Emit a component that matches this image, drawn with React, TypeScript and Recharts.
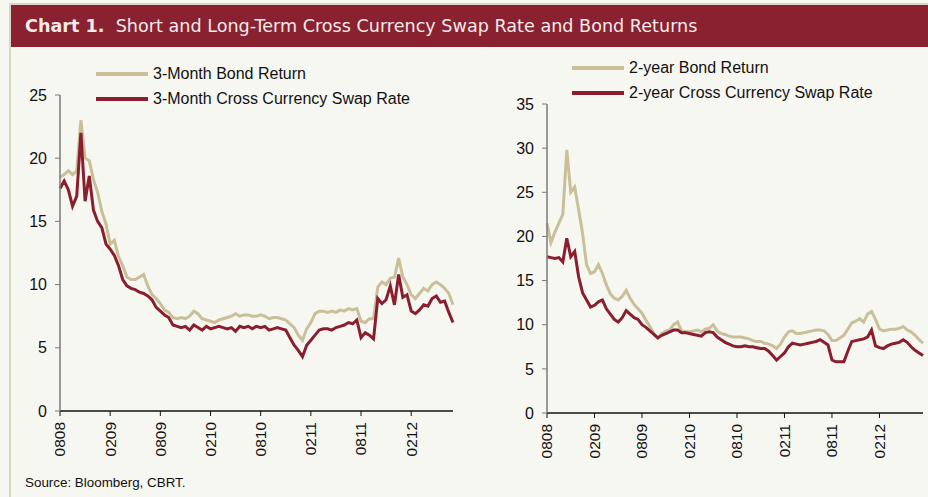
import React from "react";
import { Line, LineChart, XAxis, YAxis } from "recharts";

// half-month steps, Aug 2008 onwards
const tickLabels = ["0808", "0209", "0809", "0210", "0810", "0211", "0811", "0212"];

const leftBond = [
  18.5, 18.7, 19.0, 18.7, 19.0, 23.0, 20.0, 19.8, 18.3, 17.3, 15.8, 14.8, 13.2, 13.5, 12.2, 11.5,
  10.6, 10.4, 10.4, 10.6, 10.8, 9.9, 9.2, 8.9, 8.5, 8.0, 7.8, 7.4, 7.3, 7.4, 7.3, 7.5, 7.9, 7.7,
  7.3, 7.2, 7.1, 7.0, 7.2, 7.3, 7.4, 7.5, 7.7, 7.5, 7.6, 7.6, 7.5, 7.5, 7.6, 7.5, 7.3, 7.4, 7.4,
  7.3, 7.2, 6.9, 6.6, 6.0, 5.6, 6.5, 7.0, 7.7, 7.9, 7.9, 7.8, 7.9, 7.8, 8.0, 7.9, 8.1, 8.0, 8.1,
  7.1, 7.0, 7.3, 7.3, 9.8, 10.2, 10.0, 10.5, 10.6, 12.1, 10.6, 10.0, 9.2, 8.9, 9.3, 9.7, 9.5,
  10.0, 10.2, 10.0, 9.7, 9.3, 8.4,
];
const leftSwap = [
  17.6, 18.2, 17.5, 16.2, 17.0, 22.0, 16.6, 18.6, 15.9, 15.0, 14.5, 13.2, 12.8, 12.3, 11.5, 10.4,
  9.9, 9.7, 9.6, 9.4, 9.3, 9.1, 8.8, 8.2, 7.9, 7.6, 7.4, 6.8, 6.7, 6.6, 6.7, 6.4, 6.8, 6.6, 6.4,
  6.7, 6.5, 6.6, 6.7, 6.6, 6.5, 6.6, 6.3, 6.7, 6.6, 6.7, 6.5, 6.7, 6.6, 6.7, 6.4, 6.5, 6.6, 6.5,
  6.4, 5.8, 5.2, 4.8, 4.3, 5.2, 5.6, 6.0, 6.4, 6.5, 6.5, 6.4, 6.6, 6.7, 6.8, 7.0, 6.9, 7.2, 5.8,
  6.2, 6.0, 5.7, 8.9, 8.5, 8.8, 9.9, 8.4, 10.8, 9.0, 9.2, 7.9, 7.7, 8.0, 8.4, 8.3, 8.9, 9.1, 8.6,
  8.7, 7.8, 7.0,
];
const rightBond = [
  21.5, 19.3, 20.5, 21.5, 22.5, 29.8, 25.0, 25.6, 23.0, 20.3, 16.8, 15.8, 16.0, 16.8, 15.8, 14.5,
  13.5, 13.0, 12.8, 13.2, 13.9, 13.0, 12.3, 11.8, 11.3, 10.5, 9.8, 9.0, 8.5, 9.0, 9.3, 9.4, 10.0,
  10.3, 9.3, 9.2, 9.2, 9.3, 9.4, 9.2, 9.5, 9.6, 10.0, 9.3, 9.0, 8.9, 8.7, 8.6, 8.6, 8.6, 8.5, 8.4,
  8.2, 8.1, 8.1, 7.9, 7.8, 7.6, 7.3, 7.8, 8.6, 9.2, 9.3, 9.0, 9.0, 9.1, 9.2, 9.3, 9.4, 9.4, 9.3,
  8.9, 8.2, 8.2, 8.5, 8.8, 9.5, 10.2, 10.4, 10.7, 10.3, 11.2, 11.5, 10.6, 9.5, 9.3, 9.4, 9.5, 9.5,
  9.6, 9.8, 9.4, 9.2, 8.8, 8.3, 7.9,
];
const rightSwap = [
  17.7, 17.6, 17.5, 17.6, 17.1, 19.8, 17.7, 18.3, 15.4, 13.6, 12.8, 12.0, 12.2, 12.6, 12.8, 11.8,
  11.2, 10.6, 10.3, 10.8, 11.6, 11.2, 10.8, 10.6, 10.0, 9.7, 9.3, 8.9, 8.5, 8.8, 9.0, 9.2, 9.4,
  9.4, 9.1, 9.1, 9.0, 8.9, 8.8, 8.7, 9.1, 9.2, 9.1, 8.6, 8.3, 8.0, 7.8, 7.6, 7.5, 7.5, 7.6, 7.5,
  7.5, 7.4, 7.3, 7.3, 7.0, 6.5, 6.0, 6.4, 6.8, 7.5, 7.9, 7.8, 7.7, 7.8, 7.9, 8.0, 8.1, 8.3, 8.0,
  7.7, 6.0, 5.8, 5.8, 5.8, 7.0, 8.1, 8.2, 8.3, 8.4, 8.6, 9.4, 7.6, 7.4, 7.3, 7.6, 7.8, 7.9, 8.0,
  8.3, 8.0, 7.5, 7.1, 6.8, 6.5,
];

const TAN = "#c9bf98";
const RED = "#8a1d2e";
const FONT = "'Liberation Sans', Arial, sans-serif";

const leftData = leftBond.map((v, i) => ({ t: i, bond: v, swap: leftSwap[i] }));
const rightData = rightBond.map((v, i) => ({ t: i, bond: v, swap: rightSwap[i] }));
const xTicks = tickLabels.map((_, i) => i * 12);

function DateTick(props: any) {
  const { x, y, payload } = props;
  return (
    <g transform={`translate(${x},${y})`}>
      <text
        transform="rotate(-90)"
        x={0}
        y={0}
        dy="0.35em"
        textAnchor="end"
        fill="#111"
        fontSize={15.5}
        fontFamily={FONT}
      >
        {tickLabels[Math.round(payload.value / 12)]}
      </text>
    </g>
  );
}

function LegendBox({ names, left, top }: { names: string[]; left: number; top: number }) {
  return (
    <div style={{ position: "absolute", left, top, fontFamily: FONT, fontSize: 16, color: "#111" }}>
      {names.map((n, i) => (
        <div key={n} style={{ display: "flex", alignItems: "center", height: 25, whiteSpace: "nowrap" }}>
          <span
            style={{
              display: "inline-block",
              width: 52,
              height: 4,
              background: i === 0 ? TAN : RED,
              marginRight: 5,
            }}
          />
          <span>{n}</span>
        </div>
      ))}
    </div>
  );
}

interface PanelProps {
  data: { t: number; bond: number; swap: number }[];
  width: number;
  yWidth: number;
  top: number;
  right: number;
  bottom: number;
  yMax: number;
  xMax: number;
}

function Panel(p: PanelProps) {
  const yTicks = [];
  for (let v = 0; v <= p.yMax; v += 5) yTicks.push(v);
  return (
    <LineChart
      width={p.width}
      height={420}
      data={p.data}
      margin={{ top: p.top, right: p.right, bottom: p.bottom, left: 0 }}
    >
      <XAxis
        dataKey="t"
        type="number"
        domain={[0, p.xMax]}
        ticks={xTicks}
        interval={0}
        tick={<DateTick />}
        tickSize={5}
        tickMargin={6}
        height={45}
        axisLine={{ stroke: "#111", strokeWidth: 1.5 }}
        tickLine={{ stroke: "#111" }}
      />
      <YAxis
        domain={[0, p.yMax]}
        ticks={yTicks}
        interval={0}
        width={p.yWidth}
        tickSize={5}
        tickMargin={8}
        tick={{ fill: "#111", fontSize: 16, fontFamily: FONT }}
        axisLine={{ stroke: "#7a7a7a", strokeWidth: 1.5 }}
        tickLine={{ stroke: "#7a7a7a" }}
      />
      <Line dataKey="bond" stroke={TAN} strokeWidth={3} dot={false} isAnimationActive={false} />
      <Line dataKey="swap" stroke={RED} strokeWidth={3} dot={false} isAnimationActive={false} />
    </LineChart>
  );
}

export default function App() {
  return (
    <div
      style={{
        position: "absolute",
        left: 0,
        top: 0,
        width: 928,
        height: 497,
        background: "#f7f7f2",
        overflow: "hidden",
      }}
    >
      <div
        style={{
          position: "absolute",
          left: 9,
          top: 3,
          right: 0,
          bottom: 0,
          borderTop: "2px solid #dad7c1",
          borderLeft: "2px solid #dad7c1",
        }}
      />
      <div
        style={{
          position: "absolute",
          left: 11,
          top: 5,
          right: 0,
          height: 42,
          background: "#8a2130",
          color: "#f3eaea",
          fontFamily: "'DejaVu Sans', sans-serif",
          fontSize: 17.6,
          lineHeight: "42px",
          paddingLeft: 14,
          whiteSpace: "pre",
        }}
      >
        <b>Chart 1.</b>
        {"  Short and Long-Term Cross Currency Swap Rate and Bond Returns"}
      </div>
      <div style={{ position: "absolute", left: 0, top: 50 }}>
        <Panel data={leftData} width={470} yWidth={60} top={45} right={17} bottom={14} yMax={25} xMax={94} />
      </div>
      <div style={{ position: "absolute", left: 480, top: 50 }}>
        <Panel data={rightData} width={448} yWidth={67} top={54} right={5} bottom={12} yMax={35} xMax={95} />
      </div>
      <LegendBox names={["3-Month Bond Return", "3-Month Cross Currency Swap Rate"]} left={96} top={61} />
      <LegendBox names={["2-year Bond Return", "2-year Cross Currency Swap Rate"]} left={572} top={55} />
      <div
        style={{
          position: "absolute",
          left: 25,
          top: 475,
          fontFamily: FONT,
          fontSize: 13.4,
          color: "#111",
        }}
      >
        Source: Bloomberg, CBRT.
      </div>
    </div>
  );
}
